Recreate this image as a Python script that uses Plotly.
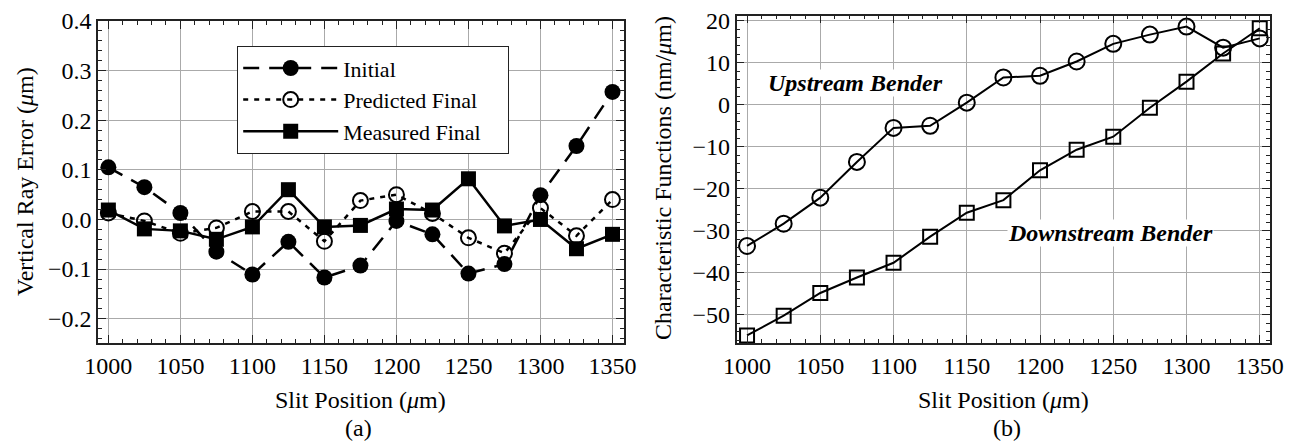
import plotly.graph_objects as go

slit = [1000, 1025, 1050, 1075, 1100, 1125, 1150, 1175, 1200, 1225, 1250, 1275, 1300, 1325, 1350]
initial = [0.105, 0.065, 0.013, -0.065, -0.111, -0.045, -0.117, -0.093, -0.003, -0.030, -0.109, -0.090, 0.049, 0.148, 0.257]
predicted = [0.013, -0.003, -0.028, -0.017, 0.016, 0.016, -0.044, 0.038, 0.050, 0.012, -0.037, -0.068, 0.023, -0.033, 0.040]
measured = [0.019, -0.019, -0.023, -0.040, -0.015, 0.060, -0.015, -0.012, 0.021, 0.019, 0.082, -0.013, 0.000, -0.059, -0.030]
upstream = [-33.6, -28.3, -22.1, -13.6, -5.5, -5.0, 0.5, 6.5, 6.9, 10.3, 14.5, 16.7, 18.6, 13.6, 15.8]
downstream = [-54.9, -50.2, -44.8, -41.1, -37.6, -31.4, -25.7, -22.7, -15.6, -10.7, -7.6, -0.7, 5.5, 12.2, 18.2]

W, H = 1289, 442
FONT = "Liberation Serif, Times New Roman, serif"
FS = 24
PAD = "\u00a0\u00a0\u00a0\u00a0"

fig = go.Figure()

fig.add_trace(go.Scatter(x=slit, y=initial, name="Initial" + PAD, mode="lines+markers",
                         line=dict(color="black", width=2.5, dash="16px,10px"),
                         marker=dict(symbol="circle", size=16, color="black"),
                         xaxis="x", yaxis="y"))
fig.add_trace(go.Scatter(x=slit, y=predicted, name="Predicted Final" + PAD, mode="lines+markers",
                         line=dict(color="black", width=2.5, dash="5px,6px"),
                         marker=dict(symbol="circle-open", size=15, color="black", line=dict(width=2)),
                         xaxis="x", yaxis="y"))
fig.add_trace(go.Scatter(x=slit, y=measured, name="Measured Final" + PAD, mode="lines+markers",
                         line=dict(color="black", width=2.5),
                         marker=dict(symbol="square", size=15, color="black"),
                         xaxis="x", yaxis="y"))
fig.add_trace(go.Scatter(x=slit, y=upstream, name="Upstream Bender", mode="lines+markers",
                         line=dict(color="black", width=2),
                         marker=dict(symbol="circle-open", size=16, color="black", line=dict(width=2)),
                         xaxis="x2", yaxis="y2", showlegend=False))
fig.add_trace(go.Scatter(x=slit, y=downstream, name="Downstream Bender", mode="lines+markers",
                         line=dict(color="black", width=2),
                         marker=dict(symbol="square-open", size=14, color="black", line=dict(width=2)),
                         xaxis="x2", yaxis="y2", showlegend=False))

axcommon = dict(showline=True, linecolor="#222222", linewidth=1.5, mirror="ticks",
                ticks="inside", ticklen=8, tickcolor="#222222", tickwidth=1,
                showgrid=True, gridcolor="#aaaaaa", gridwidth=1.2, zeroline=False,
                automargin=False,
                tickfont=dict(family=FONT, size=FS, color="black"))

def minor(d):
    return dict(dtick=d, ticks="inside", ticklen=4, tickcolor="#222222", showgrid=False)

fig.update_layout(
    width=W, height=H,
    margin=dict(l=0, r=0, t=0, b=0),
    paper_bgcolor="white", plot_bgcolor="white",
    font=dict(family=FONT, color="black"),
    xaxis=dict(domain=[98/W, 624/W], range=[992.8, 1358], dtick=50, anchor="y",
               minor=minor(10), **axcommon),
    yaxis=dict(domain=[1-343/H, 1-21/H], range=[-0.249, 0.4], dtick=0.1, tickformat=".1f", anchor="x",
               minor=minor(0.02), **axcommon),
    xaxis2=dict(domain=[736.5/W, 1270/W], range=[992.8, 1357], dtick=50, anchor="y2",
                minor=minor(10), **axcommon),
    yaxis2=dict(domain=[1-343/H, 1-15.7/H], range=[-56.7, 21.2], dtick=10, anchor="x2",
                minor=minor(2), **axcommon),
    legend=dict(x=237/W, y=1-46/H, xanchor="left", yanchor="top",
                bordercolor="#222222", borderwidth=1.2, bgcolor="white",
                font=dict(family=FONT, size=22, color="black"),
                itemwidth=95, tracegroupgap=0),
    showlegend=True,
)

ann = [
    dict(text="Vertical Ray Error (<i>μ</i>m)", x=25, y=182, textangle=-90),
    dict(text="Slit Position (<i>μ</i>m)", x=360, y=400, textangle=0),
    dict(text="(a)", x=358, y=428, textangle=0),
    dict(text="Characteristic Functions (nm/<i>μ</i>m)", x=663, y=178, textangle=-90),
    dict(text="Slit Position (<i>μ</i>m)", x=1003, y=400, textangle=0),
    dict(text="(b)", x=1007, y=428, textangle=0),
]
for a in ann:
    fig.add_annotation(text=a["text"], x=a["x"]/W, y=1-a["y"]/H, xref="paper", yref="paper",
                       showarrow=False, textangle=a["textangle"],
                       font=dict(family=FONT, size=FS, color="black"),
                       xanchor="center", yanchor="middle", borderpad=0)

fig.add_annotation(text="<b><i>Upstream Bender</i></b>", x=1073.7, y=5.2, xref="x2", yref="y2",
                   showarrow=False, bgcolor="white", borderpad=0,
                   font=dict(family=FONT, size=FS, color="black"))
fig.add_annotation(text="<b><i>Downstream Bender</i></b>", x=1247.8, y=-30.5, xref="x2", yref="y2",
                   showarrow=False, bgcolor="white", borderpad=0,
                   font=dict(family=FONT, size=FS, color="black"))

fig.write_html("out.html", config={"displayModeBar": False},
               post_script="document.body.style.margin='0';")
